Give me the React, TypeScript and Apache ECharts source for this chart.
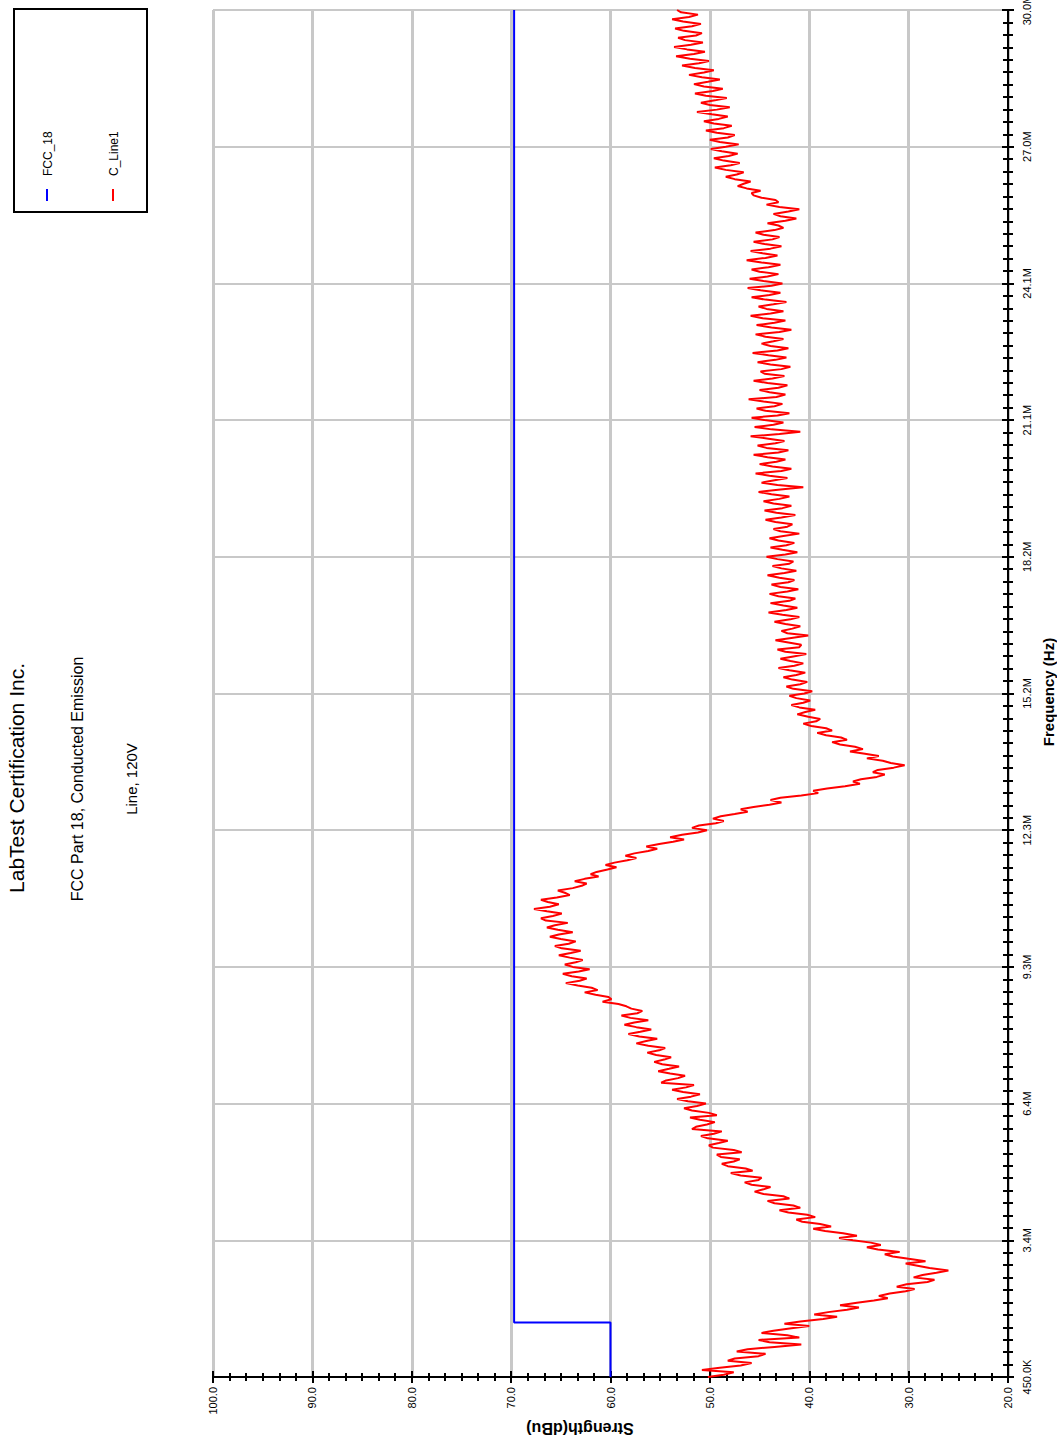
import React, { useEffect, useRef } from "react";
import * as echarts from "echarts";

// ---- data ----
const FREQ_START = 0.45; // MHz
const FREQ_END = 30.0; // MHz
const FREQ_TICK_LABELS = ["450.0K", "3.4M", "6.4M", "9.3M", "12.3M", "15.2M", "18.2M", "21.1M", "24.1M", "27.0M", "30.0M"];
const STRENGTH_MIN = 20;
const STRENGTH_MAX = 100;
const STRENGTH_STEP = 10;

// FCC_18 limit line
const LIMIT_FREQ = [0.45, 1.63, 1.63, 30.0];
const LIMIT_LEVEL = [60, 60, 69.7, 69.7];

// C_Line1 measured trace (dBuV), sweep points evenly spaced from 450 kHz to 30 MHz
const TRACE_LEVEL = [
  50.2, 48.6, 47.6, 50.8, 49.0, 46.9, 45.8, 48.2, 47.5, 45.1, 44.4, 47.3, 46.2, 43.5, 40.8, 44.0, 45.1, 41.0, 42.2, 44.8,
  43.6, 41.8, 40.0, 42.5, 40.9, 38.6, 37.2, 39.5, 38.1, 36.2, 35.0, 36.9, 35.2, 33.5, 32.1, 33.0, 31.9, 30.3, 29.4, 31.2,
  30.2, 28.1, 27.4, 29.5, 28.6, 27.2, 26.0, 27.9, 29.1, 30.3, 28.3, 30.0, 31.6, 32.4, 30.9, 33.1, 34.2, 32.8, 33.8, 35.6,
  37.0, 35.2, 36.6, 38.4, 39.6, 37.8, 38.9, 40.7, 41.3, 39.4, 40.2, 42.1, 43.0, 40.9, 41.6, 43.5, 44.2, 42.0, 42.6, 44.6,
  45.5, 44.6, 43.9, 45.8, 46.5, 45.1, 44.8, 46.9, 47.9, 45.7, 46.4, 48.2, 48.8, 47.6, 47.0, 48.9, 49.3, 46.8, 47.6, 49.7,
  50.1, 49.1, 48.2, 50.2, 50.9, 49.6, 48.8, 51.8, 51.4, 50.3, 49.5, 51.0, 52.0, 49.3, 50.1, 51.8, 52.6, 51.3, 50.4, 52.2,
  53.3, 51.9, 51.0, 52.7, 53.8, 52.4, 51.6, 54.9, 54.4, 53.2, 52.5, 54.0, 55.2, 54.1, 53.1, 54.8, 55.6, 54.6, 53.9, 55.4,
  56.3, 55.1, 54.5, 56.2, 57.4, 56.4, 55.3, 57.1, 58.2, 57.0, 55.9, 57.4, 58.6, 57.6, 56.2, 58.0, 58.9, 57.3, 56.8, 57.9,
  58.4, 59.2, 60.8, 59.9, 60.2, 61.5, 62.6, 61.3, 61.9, 63.3, 64.5, 63.1, 62.4, 63.9, 64.8, 63.2, 62.1, 63.8, 64.6, 63.5,
  62.8, 64.1, 65.2, 64.0, 63.0, 64.9, 65.6, 64.2, 63.5, 65.0, 66.1, 65.2, 63.8, 65.3, 66.4, 65.6, 64.3, 66.5, 67.0, 65.8,
  64.9, 66.4, 67.7, 66.1, 65.2, 66.3, 67.0, 65.4, 64.1, 64.6, 65.3, 63.8, 62.9, 62.4, 63.6, 62.6, 61.2, 62.0, 61.4, 60.3,
  59.4, 60.5, 59.6, 58.3, 57.4, 58.5, 57.6, 56.2, 55.3, 56.4, 55.1, 53.7, 52.6, 54.0, 52.8, 51.2, 50.3, 51.8, 51.1, 49.4,
  48.6, 49.7, 48.9, 47.5, 46.2, 46.9, 45.6, 44.0, 42.8, 43.9, 42.9, 40.8, 39.1, 39.6, 38.2, 36.4, 34.9, 35.6, 34.8, 33.2,
  32.4, 33.6, 33.1, 31.5, 30.4, 31.8, 32.6, 34.2, 33.0, 34.4, 35.9, 34.6, 35.4, 36.9, 37.7, 36.2, 36.8, 38.3, 39.2, 37.7,
  38.3, 39.8, 40.6, 39.3, 38.9, 40.1, 41.2, 40.4, 39.4, 41.0, 41.8, 40.6, 39.9, 41.3, 42.0, 40.5, 39.7, 41.6, 42.3, 40.9,
  40.2, 41.7, 42.6, 41.3, 40.4, 42.0, 43.1, 41.5, 40.6, 41.9, 42.9, 41.6, 40.3, 42.4, 43.2, 41.0, 40.8, 42.1, 43.4, 41.8,
  40.1, 42.2, 42.8, 41.7, 40.9, 42.4, 43.5, 41.9, 41.0, 42.7, 44.1, 42.3, 41.2, 42.6, 43.9, 42.0, 41.4, 43.1, 44.0, 42.2,
  41.1, 42.9, 43.8, 42.1, 41.5, 43.0, 44.2, 42.5, 41.3, 42.8, 43.7, 42.0, 41.6, 43.2, 44.3, 42.4, 41.2, 42.7, 43.9, 42.3,
  41.5, 43.1, 44.0, 42.6, 41.0, 42.9, 43.6, 42.2, 41.7, 43.4, 44.4, 42.8, 41.4, 43.3, 44.5, 42.7, 41.8, 43.6, 44.6, 43.0,
  42.0, 43.8, 45.1, 42.9, 40.6, 43.2, 44.8, 43.5, 42.2, 44.0, 45.4, 42.8, 41.8, 43.7, 45.0, 43.3, 42.4, 44.2, 45.6, 43.1,
  42.1, 44.3, 45.2, 43.4, 42.5, 44.1, 45.9, 43.0, 40.9, 43.8, 45.5, 43.6, 42.6, 44.5, 45.8, 43.2, 42.0, 44.4, 45.3, 43.5,
  42.7, 44.6, 46.1, 43.3, 42.4, 44.0, 45.0, 43.1, 42.2, 44.2, 45.6, 43.7, 42.5, 44.5, 44.9, 42.8, 41.9, 43.9, 45.2, 43.4,
  42.3, 44.1, 45.7, 43.2, 42.1, 43.9, 44.8, 43.6, 42.6, 44.4, 45.4, 43.0, 41.8, 43.8, 45.3, 43.5, 42.4, 44.7, 45.9, 43.9,
  42.6, 44.3, 45.1, 43.6, 42.3, 44.4, 45.8, 44.0, 42.9, 44.9, 46.2, 43.8, 42.7, 44.6, 46.0, 44.2, 43.1, 45.0, 45.8, 44.1,
  42.9, 44.8, 46.3, 44.4, 43.2, 44.7, 45.9, 43.9, 42.8, 44.5, 45.6, 43.7, 43.0, 44.6, 45.4, 43.5, 42.6, 43.1, 44.2, 42.4,
  41.3, 42.9, 43.6, 42.1, 41.0, 43.0, 44.3, 43.1, 43.4, 44.8, 45.6, 45.8, 44.9, 46.3, 47.2, 46.6, 45.9, 47.5, 48.4, 47.3,
  46.6, 48.4, 49.5, 47.9, 47.0, 48.6, 49.6, 48.1, 47.2, 48.8, 49.9, 48.4, 47.1, 49.0, 50.0, 48.2, 47.5, 49.3, 50.4, 48.6,
  47.8, 49.6, 50.6, 49.1, 48.2, 49.8, 51.3, 49.3, 48.0, 50.0, 50.9, 49.5, 48.3, 50.4, 51.5, 49.7, 48.7, 50.6, 51.6, 50.2,
  49.0, 50.8, 52.1, 50.6, 49.6, 51.5, 52.8, 51.1, 50.1, 52.0, 53.4, 51.6, 50.5, 52.3, 53.6, 51.9, 50.7, 52.5, 53.2, 51.4,
  50.8, 52.6, 53.5, 51.8, 50.9, 52.7, 53.8, 52.1, 51.2, 52.9, 53.3,
];

const FONT = "'Liberation Sans', Arial, sans-serif";

export default function App() {
  const ref = useRef<HTMLDivElement>(null);

  useEffect(() => {
    if (!ref.current) return;
    const chart = echarts.init(ref.current, undefined, { renderer: "svg" });

    const span = FREQ_END - FREQ_START;
    const freqInterval = span / (FREQ_TICK_LABELS.length - 1);
    const n = TRACE_LEVEL.length;
    const traceData = TRACE_LEVEL.map((v, i) => [v, (i * span) / (n - 1)]);
    const limitData = LIMIT_LEVEL.map((v, i) => [v, LIMIT_FREQ[i] - FREQ_START]);

    const freqLabel = (v: number) => {
      const idx = Math.round(v / freqInterval);
      return FREQ_TICK_LABELS[idx] ?? "";
    };

    const tickStyle = { color: "#000", width: 2 };

    const option: any = {
      animation: false,
      backgroundColor: "#fff",
      grid: { left: 213, right: 49, top: 10, bottom: 63, containLabel: false, outerBoundsMode: "none" },
      xAxis: [
        {
          type: "value",
          min: STRENGTH_MIN,
          max: STRENGTH_MAX,
          interval: STRENGTH_STEP,
          inverse: true,
          position: "bottom",
          axisLine: { show: true, onZero: false, lineStyle: { color: "#000", width: 2 } },
          axisTick: { show: true, inside: false, length: 6, lineStyle: tickStyle },
          minorTick: { show: true, splitNumber: 6, length: 4, lineStyle: tickStyle },
          axisLabel: {
            rotate: 90,
            margin: 10,
            fontSize: 11,
            color: "#000",
            fontFamily: FONT,
            formatter: (v: number) => v.toFixed(1),
          },
          splitLine: { show: true, lineStyle: { color: "#c8c8c8", width: 3 } },
        },
        {
          type: "value",
          min: STRENGTH_MIN,
          max: STRENGTH_MAX,
          interval: STRENGTH_STEP,
          inverse: true,
          position: "bottom",
          axisLine: { show: false, onZero: false },
          axisTick: { show: true, inside: true, length: 6, lineStyle: tickStyle },
          minorTick: { show: true, splitNumber: 6, length: 4, lineStyle: tickStyle },
          axisLabel: { show: false },
          splitLine: { show: false },
        },
      ],
      yAxis: [
        {
          type: "value",
          min: 0,
          max: span,
          interval: freqInterval,
          position: "right",
          axisLine: { show: true, onZero: false, lineStyle: { color: "#000", width: 2 } },
          axisTick: { show: true, inside: false, length: 6, lineStyle: tickStyle },
          minorTick: { show: true, splitNumber: 11, length: 5, lineStyle: tickStyle },
          axisLabel: {
            rotate: 90,
            margin: 13,
            fontSize: 11,
            color: "#000",
            fontFamily: FONT,
            formatter: freqLabel,
          },
          splitLine: { show: true, lineStyle: { color: "#c8c8c8", width: 2 } },
        },
        {
          type: "value",
          min: 0,
          max: span,
          interval: freqInterval,
          position: "right",
          axisLine: { show: false, onZero: false },
          axisTick: { show: true, inside: true, length: 6, lineStyle: tickStyle },
          minorTick: { show: true, splitNumber: 11, length: 5, lineStyle: tickStyle },
          axisLabel: { show: false },
          splitLine: { show: false },
        },
      ],
      series: [
        {
          name: "FCC_18",
          type: "line",
          xAxisIndex: 0,
          yAxisIndex: 0,
          data: limitData,
          showSymbol: false,
          symbol: "none",
          lineStyle: { color: "#0000ff", width: 2 },
          z: 3,
        },
        {
          name: "C_Line1",
          type: "line",
          xAxisIndex: 0,
          yAxisIndex: 0,
          data: traceData,
          showSymbol: false,
          symbol: "none",
          lineStyle: { color: "#ff0000", width: 2 },
          z: 4,
        },
      ],
      graphic: [
        {
          type: "text",
          x: 16,
          y: 778,
          rotation: Math.PI / 2,
          style: {
            text: "LabTest Certification Inc.",
            fontSize: 21,
            fontFamily: FONT,
            fill: "#000",
            textAlign: "center",
            textVerticalAlign: "middle",
          },
        },
        {
          type: "text",
          x: 77,
          y: 779,
          rotation: Math.PI / 2,
          style: {
            text: "FCC Part 18, Conducted Emission",
            fontSize: 16,
            fontFamily: FONT,
            fill: "#000",
            textAlign: "center",
            textVerticalAlign: "middle",
          },
        },
        {
          type: "text",
          x: 131,
          y: 779,
          rotation: Math.PI / 2,
          style: {
            text: "Line, 120V",
            fontSize: 15,
            fontFamily: FONT,
            fill: "#000",
            textAlign: "center",
            textVerticalAlign: "middle",
          },
        },
        {
          type: "text",
          x: 580,
          y: 1428,
          rotation: Math.PI,
          style: {
            text: "Strength(dBu)",
            fontSize: 16,
            fontWeight: "bold",
            fontFamily: FONT,
            fill: "#000",
            textAlign: "center",
            textVerticalAlign: "middle",
          },
        },
        {
          type: "text",
          x: 1048,
          y: 692,
          rotation: Math.PI / 2,
          style: {
            text: "Frequency (Hz)",
            fontSize: 15,
            fontWeight: "bold",
            fontFamily: FONT,
            fill: "#000",
            textAlign: "center",
            textVerticalAlign: "middle",
          },
        },
        // legend
        {
          type: "rect",
          shape: { x: 14, y: 9, width: 133, height: 203 },
          style: { fill: "#fff", stroke: "#000", lineWidth: 2 },
          z: 10,
        },
        {
          type: "line",
          shape: { x1: 47, y1: 189, x2: 47, y2: 201 },
          style: { stroke: "#0000ff", lineWidth: 2 },
          z: 11,
        },
        {
          type: "text",
          x: 48,
          y: 176,
          rotation: Math.PI / 2,
          z: 11,
          style: {
            text: "FCC_18",
            fontSize: 12,
            fontFamily: FONT,
            fill: "#000",
            textAlign: "left",
            textVerticalAlign: "middle",
          },
        },
        {
          type: "line",
          shape: { x1: 113, y1: 189, x2: 113, y2: 201 },
          style: { stroke: "#ff0000", lineWidth: 2 },
          z: 11,
        },
        {
          type: "text",
          x: 114,
          y: 176,
          rotation: Math.PI / 2,
          z: 11,
          style: {
            text: "C_Line1",
            fontSize: 12,
            fontFamily: FONT,
            fill: "#000",
            textAlign: "left",
            textVerticalAlign: "middle",
          },
        },
      ],
    };

    chart.setOption(option);
    return () => chart.dispose();
  }, []);

  return (
    <div
      ref={ref}
      style={{ position: "absolute", left: 0, top: 0, width: 1057, height: 1440, background: "#fff" }}
    />
  );
}
